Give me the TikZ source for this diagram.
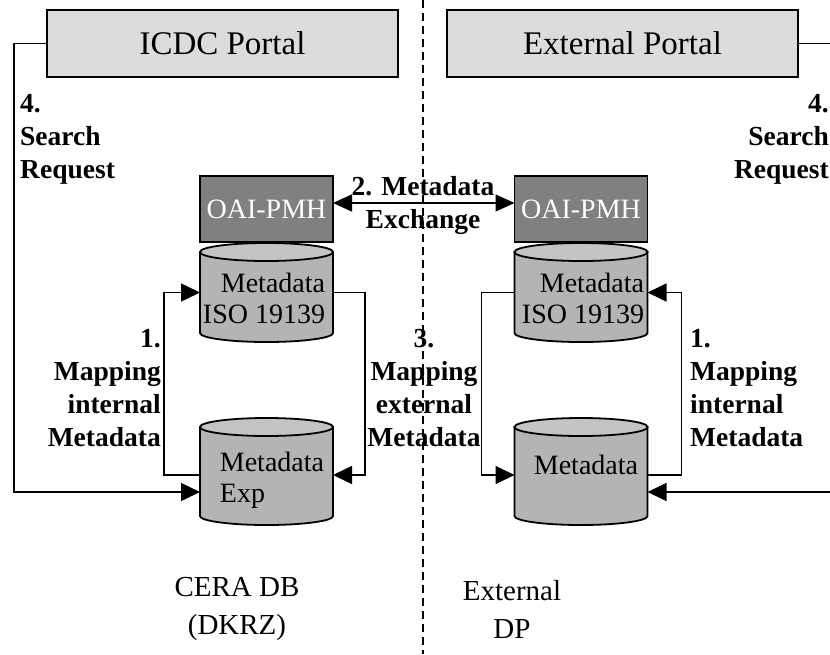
\documentclass[tikz,border=0pt]{standalone}
\usepackage{fontspec}
\setmainfont{Liberation Serif}
\usetikzlibrary{arrows.meta}
\definecolor{portalgray}{HTML}{DCDCDC}
\definecolor{oaigray}{HTML}{808080}
\definecolor{cylbody}{HTML}{B4B4B4}
\definecolor{cyltop}{HTML}{C4C4C4}
\tikzset{
  portal/.style={draw, line width=1.8pt, fill=portalgray, minimum width=351pt,
    minimum height=67pt, inner sep=0pt, outer sep=0pt,
    font=\fontsize{33}{38}\selectfont},
  oaibox/.style={draw, line width=1.8pt, fill=oaigray, text=white, minimum width=133pt,
    minimum height=66pt, inner sep=0pt, outer sep=0pt, text depth=0pt,
    font=\fontsize{28}{32}\selectfont},
  cylnode/.style={rectangle, minimum width=133pt, inner sep=0pt, outer sep=0pt},
  cyltext/.style={inner sep=0pt, font=\fontsize{28}{31}\selectfont},
  lbl/.style={inner sep=0pt, font=\fontsize{27.5}{33}\selectfont\bfseries},
  conn/.style={line width=1.5pt},
  arr/.style={conn, -{Triangle[length=19pt,width=18pt]}},
  arrboth/.style={conn, {Triangle[length=19pt,width=17pt]}-{Triangle[length=19pt,width=17pt]}}
}
\newcommand{\cyl}[1]{%
  \draw[line width=1.8pt, fill=cylbody] (#1.north west) -- (#1.south west)
    arc[start angle=180, end angle=360, x radius=66.5pt, y radius=9pt]
    -- (#1.north east) -- cycle;
  \draw[line width=1.8pt, fill=cyltop] (#1.north) ellipse[x radius=66.5pt, y radius=9pt];
}
\begin{document}
\begin{tikzpicture}[x=1pt, y=-1pt]
  \useasboundingbox (0,0) rectangle (830,654);

  % portals
  \node[portal] (icdc) at (222.5,43.5) {ICDC Portal};
  \node[portal] (extp) at (622.5,43.5) {External Portal};

  % OAI-PMH boxes
  \node[oaibox] (oaiL) at (266.5,209) {OAI-PMH};
  \node[oaibox] (oaiR) at (581,209) {OAI-PMH};

  % databases
  \node[cylnode, minimum height=81pt] (isoL) at (266.5,292.5) {};
  \node[cylnode, minimum height=81pt] (isoR) at (581,292.5) {};
  \node[cylnode, minimum height=89pt] (expL) at (266.5,471.5) {};
  \node[cylnode, minimum height=89pt] (expR) at (581,471.5) {};
  \foreach \c in {isoL, isoR, expL, expR} {
    \cyl{\c}
  }
  \node[cyltext, align=right] (isoLtxt) at (264,298) {Metadata\\ISO 19139};
  \node[cyltext, align=right] (isoRtxt) at (583,298) {Metadata\\ISO 19139};
  \node[cyltext, align=left] (expLtxt) at (272,480) {Metadata\\Exp};
  \node[cyltext] (expRtxt) at (586,465) {Metadata};

  % mapping connectors
  \draw[arr] ([yshift=-3.5pt]expL.west) -- ++(-36,0) |- (isoL.west);
  \draw[arr] (isoL.east) -- ++(32,0) |- ([yshift=-3.5pt]expL.east);
  \draw[arr] (isoR.west) -- ++(-33,0) |- ([yshift=-3.5pt]expR.west);
  \draw[arr] ([yshift=-3.5pt]expR.east) -- ++(34,0) |- (isoR.east);

  % search requests
  \coordinate (srchL) at (14,43.5);
  \coordinate (srchR) at (836,43.5);
  \draw[arr] (icdc.west) -- (srchL) |- ([yshift=-20.5pt]expL.west);
  \draw[arr] (extp.east) -- (srchR) |- ([yshift=-20.5pt]expR.east);

  % metadata exchange
  \draw[arrboth] ([yshift=6pt]oaiL.east) -- ([yshift=6pt]oaiR.west);

  % labels
  \node[lbl, anchor=west, align=left] (searchL) at (20,139) {4.\\Search\\Request};
  \node[lbl, anchor=east, align=right] (searchR) at (829,139) {4.\\Search\\Request};
  \node[lbl, align=center] (xchg) at (423,205) {2. Metadata\\Exchange};
  \node[lbl, anchor=east, align=right] (mapL) at (161,388) {1.\\Mapping\\internal\\Metadata};
  \node[lbl, align=center] (mapX) at (424,388) {3.\\Mapping\\external\\Metadata};
  \node[lbl, anchor=west, align=left] (mapR) at (690,388) {1.\\Mapping\\internal\\Metadata};

  % sites
  \node[cyltext, align=center, font=\fontsize{29}{38}\selectfont] (cera) at (237,609) {CERA DB\\(DKRZ)};
  \node[cyltext, align=center, font=\fontsize{29}{38}\selectfont] (extdp) at (512,609) {External\\DP};

  % divider
  \draw[line width=1.3pt, dash pattern=on 8pt off 5pt] (423,0) -- (423,654);
\end{tikzpicture}
\end{document}
